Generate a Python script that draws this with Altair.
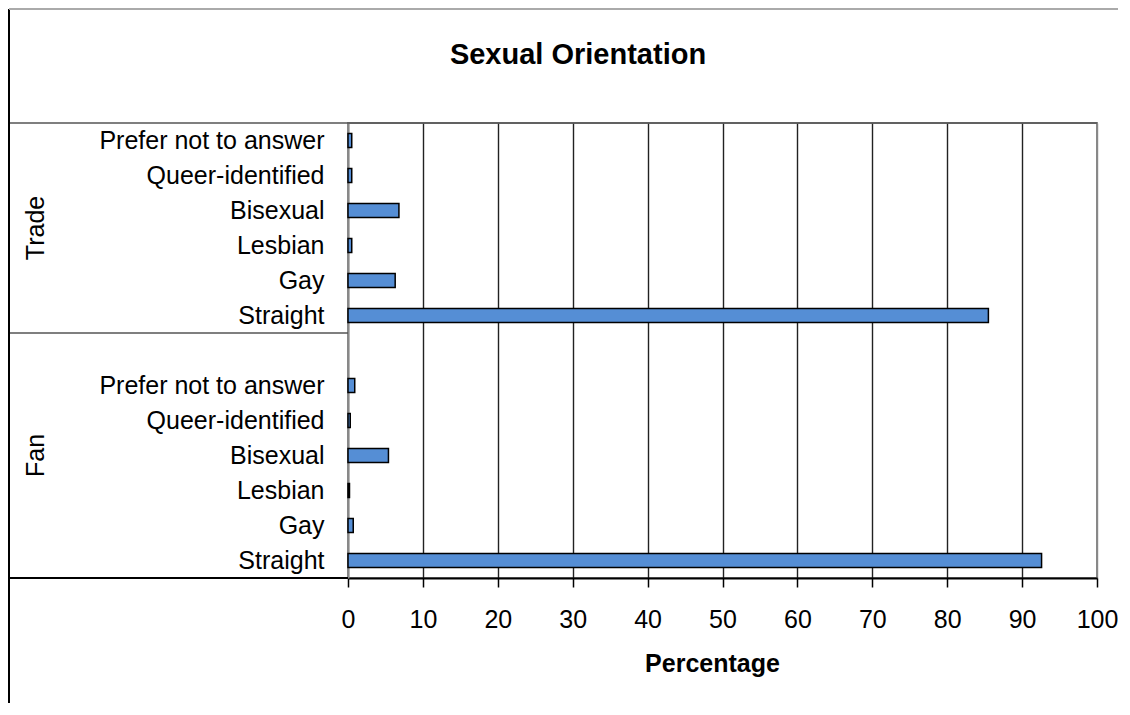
import altair as alt
import pandas as pd

FONT = "Liberation Sans"

groups = ["Trade", "Fan"]
categories = ["Prefer not to answer", "Queer-identified", "Bisexual", "Lesbian", "Gay", "Straight"]
trade_values = [0.5, 0.5, 6.8, 0.5, 6.3, 85.5]
fan_values = [0.9, 0.3, 5.4, 0.2, 0.7, 92.6]
x_ticks = [0, 10, 20, 30, 40, 50, 60, 70, 80, 90, 100]

keys = ["Trade|" + c for c in categories] + ["Fan|"] + ["Fan|" + c for c in categories]

rows = []
for c, v in zip(categories, trade_values):
    rows.append({"key": "Trade|" + c, "group": "Trade", "category": c, "value": v})
for c, v in zip(categories, fan_values):
    rows.append({"key": "Fan|" + c, "group": "Fan", "category": c, "value": v})
df = pd.DataFrame(rows)

y_scale = alt.Scale(domain=keys, paddingInner=0, paddingOuter=0)
y_axis = alt.Axis(
    title=None, labelExpr="split(datum.value, '|')[1]", ticks=False,
    domain=True, domainColor="#888", domainWidth=2, grid=False,
    labelFontSize=25, labelFont=FONT, labelColor="black",
    labelPadding=24, labelLimit=600,
)
x_axis = alt.Axis(
    values=x_ticks, grid=True,
    gridColor={"condition": {"test": "datum.value == 100 || datum.value == 0", "value": "#888"}, "value": "#222"},
    gridWidth=1.4,
    domainColor="black", domainWidth=2, tickColor="black", tickSize=9, tickWidth=1.5,
    labelFontSize=25, labelFont=FONT, labelColor="black", labelPadding=20,
    labelFlush=False, labelOverlap=False,
    title="Percentage", titleFontSize=25, titleFont=FONT, titleFontWeight="bold",
    titleColor="black", titleBaseline="alphabetic", titleY=93, titleX=364,
)

bars = alt.Chart(df).mark_bar(
    height={"band": 0.4}, color="#558ED5", stroke="black", strokeWidth=1.5
).encode(
    x=alt.X("value:Q", scale=alt.Scale(domain=[0, 100], nice=False), axis=x_axis),
    y=alt.Y("key:N", scale=y_scale, axis=y_axis, sort=keys),
)

trade_label = alt.Chart(pd.DataFrame({"key": ["Trade|Lesbian"], "g": [groups[0]]})).mark_text(
    angle=270, align="center", baseline="middle", fontSize=25, font=FONT, color="black"
).encode(
    y=alt.Y("key:N", scale=y_scale, axis=y_axis, sort=keys, bandPosition=0),
    x=alt.value(-312), text="g:N",
)
fan_label = alt.Chart(pd.DataFrame({"key": ["Fan|Bisexual"], "g": [groups[1]]})).mark_text(
    angle=270, align="center", baseline="middle", fontSize=25, font=FONT, color="black"
).encode(
    y=alt.Y("key:N", scale=y_scale, axis=y_axis, sort=keys, bandPosition=0.5),
    x=alt.value(-312), text="g:N",
)

sep = alt.Chart(pd.DataFrame({"key": ["Fan|"]})).mark_rule(color="#555", strokeWidth=1.5).encode(
    y=alt.Y("key:N", scale=y_scale, axis=y_axis, sort=keys, bandPosition=0),
    x=alt.value(-339), x2=alt.value(0),
)

one = pd.DataFrame({"a": [1]})
top_line = alt.Chart(one).mark_rule(color="#555", strokeWidth=1.5).encode(
    x=alt.value(-339), x2=alt.value(749), y=alt.value(0))
bottom_line = alt.Chart(one).mark_rule(color="black", strokeWidth=2).encode(
    x=alt.value(-339), x2=alt.value(0), y=alt.value(455))
frame_left = alt.Chart(one).mark_rule(color="black", strokeWidth=2).encode(
    x=alt.value(-339), y=alt.value(-114), y2=alt.value(580))
frame_top = alt.Chart(one).mark_rule(color="#aaa", strokeWidth=2).encode(
    x=alt.value(-339), x2=alt.value(770), y=alt.value(-114))

title = alt.Chart(pd.DataFrame({"t": ["Sexual Orientation"]})).mark_text(
    align="center", baseline="alphabetic", fontSize=29, font=FONT, fontWeight="bold", color="black"
).encode(text="t:N", x=alt.value(230), y=alt.value(-59))

chart = alt.layer(
    bars, sep, top_line, bottom_line, frame_left, frame_top, trade_label, fan_label, title
).properties(
    width=749, height=455,
    autosize=alt.AutoSizeParams(type="none"),
    padding={"left": 340, "top": 115, "right": 21, "bottom": 125},
    background="white",
).configure_view(stroke="#888", strokeWidth=2)

chart.save("out.html", embed_options={"renderer": "svg", "actions": False})
